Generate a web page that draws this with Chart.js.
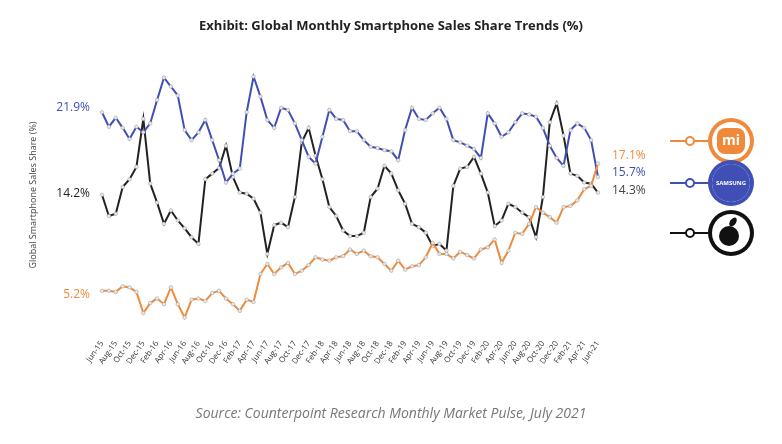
<!DOCTYPE html><html><head><meta charset="utf-8">
<script src="https://cdn.jsdelivr.net/npm/chart.js@4"></script>
<style>body{margin:0;background:#fff}#w{position:relative;width:782px;height:444px}</style></head><body>
<div id="w"><canvas id="c" width="782" height="444"></canvas></div>
<script>
const months=['Jan','Feb','Mar','Apr','May','Jun','Jul','Aug','Sep','Oct','Nov','Dec'];
const categories=[];for(let i=0;i<73;i++){const m=(5+i)%12,y=15+Math.floor((5+i)/12);categories.push(months[m]+'-'+y);}
const samsung=[21.5,20.2,21.0,20.1,19.1,20.2,19.7,20.5,22.6,24.6,23.8,23.0,19.9,19.0,19.7,20.8,19.0,17.2,15.2,16.0,16.45,21.5,24.7,22.9,20.8,20.1,21.9,21.7,20.5,19.0,17.5,16.9,19.3,21.7,20.9,20.8,19.8,19.8,19.0,18.4,18.3,18.1,18.0,17.2,19.9,21.9,20.9,20.8,21.4,21.9,20.9,19.0,18.8,18.5,18.2,17.4,21.4,20.5,19.3,19.7,20.6,21.4,21.3,21.1,20.1,18.5,17.4,16.7,19.9,20.5,20.1,19.0,15.7];
const apple=[14.1,12.2,12.4,14.8,15.5,16.6,20.9,15.1,13.4,11.5,12.7,11.8,11.1,10.3,9.7,15.5,16.0,16.5,18.5,15.7,14.3,14.2,13.75,12.5,8.8,11.4,11.6,11.2,13.9,18.8,20.1,17.6,15.5,13.0,12.2,10.9,10.4,10.4,10.7,13.9,14.65,16.7,16.0,14.5,13.3,11.5,11.2,10.7,9.5,9.7,9.1,14.9,16.45,16.6,17.5,16.0,14.3,11.3,11.8,13.3,13.0,12.5,12.1,10.3,13.9,20.6,22.3,19.4,16.0,15.8,15.2,15.1,14.3];
const xiaomi=[5.5,5.5,5.4,5.9,5.8,5.4,3.5,4.4,4.8,4.3,5.8,4.3,3.1,4.7,4.8,4.6,5.3,5.5,4.8,4.3,3.7,4.7,4.5,7.0,7.9,7.0,7.6,8.0,7.0,7.3,7.8,8.5,8.3,8.2,8.5,8.6,9.2,8.8,9.1,8.6,8.5,7.9,7.3,8.2,7.4,7.7,7.8,8.5,9.8,8.8,8.8,8.4,9.0,8.7,8.4,9.2,9.4,10.1,8.0,9.1,10.7,10.6,11.5,13.0,12.5,12.1,11.6,13.0,13.1,13.6,14.6,14.9,16.9];
const startLabels=['21.9%','14.2%','5.2%'];
const endLabels=['15.7%','14.3%','17.1%'];
const C={s:'#3f4fb5',a:'#222',x:'#f08a3a'};
const deco={id:'deco',afterDraw(ch){const c=ch.ctx,x=ch.scales.x,y=ch.scales.y;c.save();
c.textAlign='center';c.fillStyle='#222';c.font='bold 13px "Open Sans"';c.fillText('Exhibit: Global Monthly Smartphone Sales Share Trends (%)',391,30);
c.font='italic 14px "Open Sans"';c.fillStyle='#777';c.fillText('Source: Counterpoint Research Monthly Market Pulse, July 2021',391,418);
c.save();c.translate(36,195);c.rotate(-Math.PI/2);c.font='9px "Open Sans"';c.fillStyle='#444';c.fillText('Global Smartphone Sales Share (%)',0,0);c.restore();
c.font='12px "Open Sans"';c.textAlign='right';c.textBaseline='middle';
const sy=[21.9,14.2,5.2],sc=[C.s,C.a,C.x];
sy.forEach((v,i)=>{c.fillStyle=sc[i];c.fillText(startLabels[i],90,y.getPixelForValue(v));});
c.textAlign='left';const ex=x.getPixelForValue(72)+14;
c.fillStyle=C.x;c.fillText(endLabels[2],ex,y.getPixelForValue(17.6));
c.fillStyle=C.s;c.fillText(endLabels[0],ex,y.getPixelForValue(16.1));
c.fillStyle='#444';c.fillText(endLabels[1],ex,y.getPixelForValue(14.5));
const ic=[[141,C.x,'mi'],[183,C.s,'SAMSUNG'],[233,'#111','']];
ic.forEach(([yy,col,t])=>{c.strokeStyle=col;c.lineWidth=2;c.beginPath();c.moveTo(670,yy);c.lineTo(708,yy);c.stroke();
c.fillStyle='#fff';c.beginPath();c.arc(690,yy,4,0,7);c.fill();c.stroke();
c.fillStyle=col;c.beginPath();c.arc(731,yy,23,0,7);c.fill();
c.fillStyle='#fff';c.beginPath();c.arc(731,yy,19,0,7);c.fill();
if(t==='mi'){c.fillStyle=col;c.beginPath();c.roundRect(717,yy-13,28,26,8);c.fill();c.fillStyle='#fff';c.font='bold 14px "Open Sans"';c.textAlign='center';c.fillText('mi',731,yy);}
else if(t){c.fillStyle=col;c.beginPath();c.arc(731,yy,19,0,7);c.fill();c.fillStyle='#fff';c.font='bold 6px "Open Sans"';c.textAlign='center';c.fillText(t,731,yy);}
else{c.fillStyle='#111';c.beginPath();c.arc(729,yy+3,10,0,7);c.fill();c.beginPath();c.ellipse(733,yy-11,3,5,0.6,0,7);c.fill();}
});
c.restore();}};
const ds=(d,col)=>({data:d,borderColor:col,borderWidth:2,pointRadius:1.8,pointBackgroundColor:'#e8e8e8',pointBorderColor:'#999',pointBorderWidth:0.5,tension:0});
new Chart(document.getElementById('c'),{type:'line',data:{labels:categories,datasets:[ds(xiaomi,C.x),ds(samsung,C.s),ds(apple,C.a)]},
options:{responsive:false,animation:false,layout:{padding:{left:102,right:184,top:62,bottom:75}},
plugins:{legend:{display:false},tooltip:{enabled:false}},
scales:{y:{display:false,min:2.15,max:26},x:{offset:false,grid:{display:false},border:{display:false},
ticks:{autoSkip:false,maxRotation:55,minRotation:55,color:'#333',font:{size:8,family:'Open Sans'},callback:(v,i)=>i%2===0?categories[i]:''}}}},
plugins:[deco]});
</script></body></html>
